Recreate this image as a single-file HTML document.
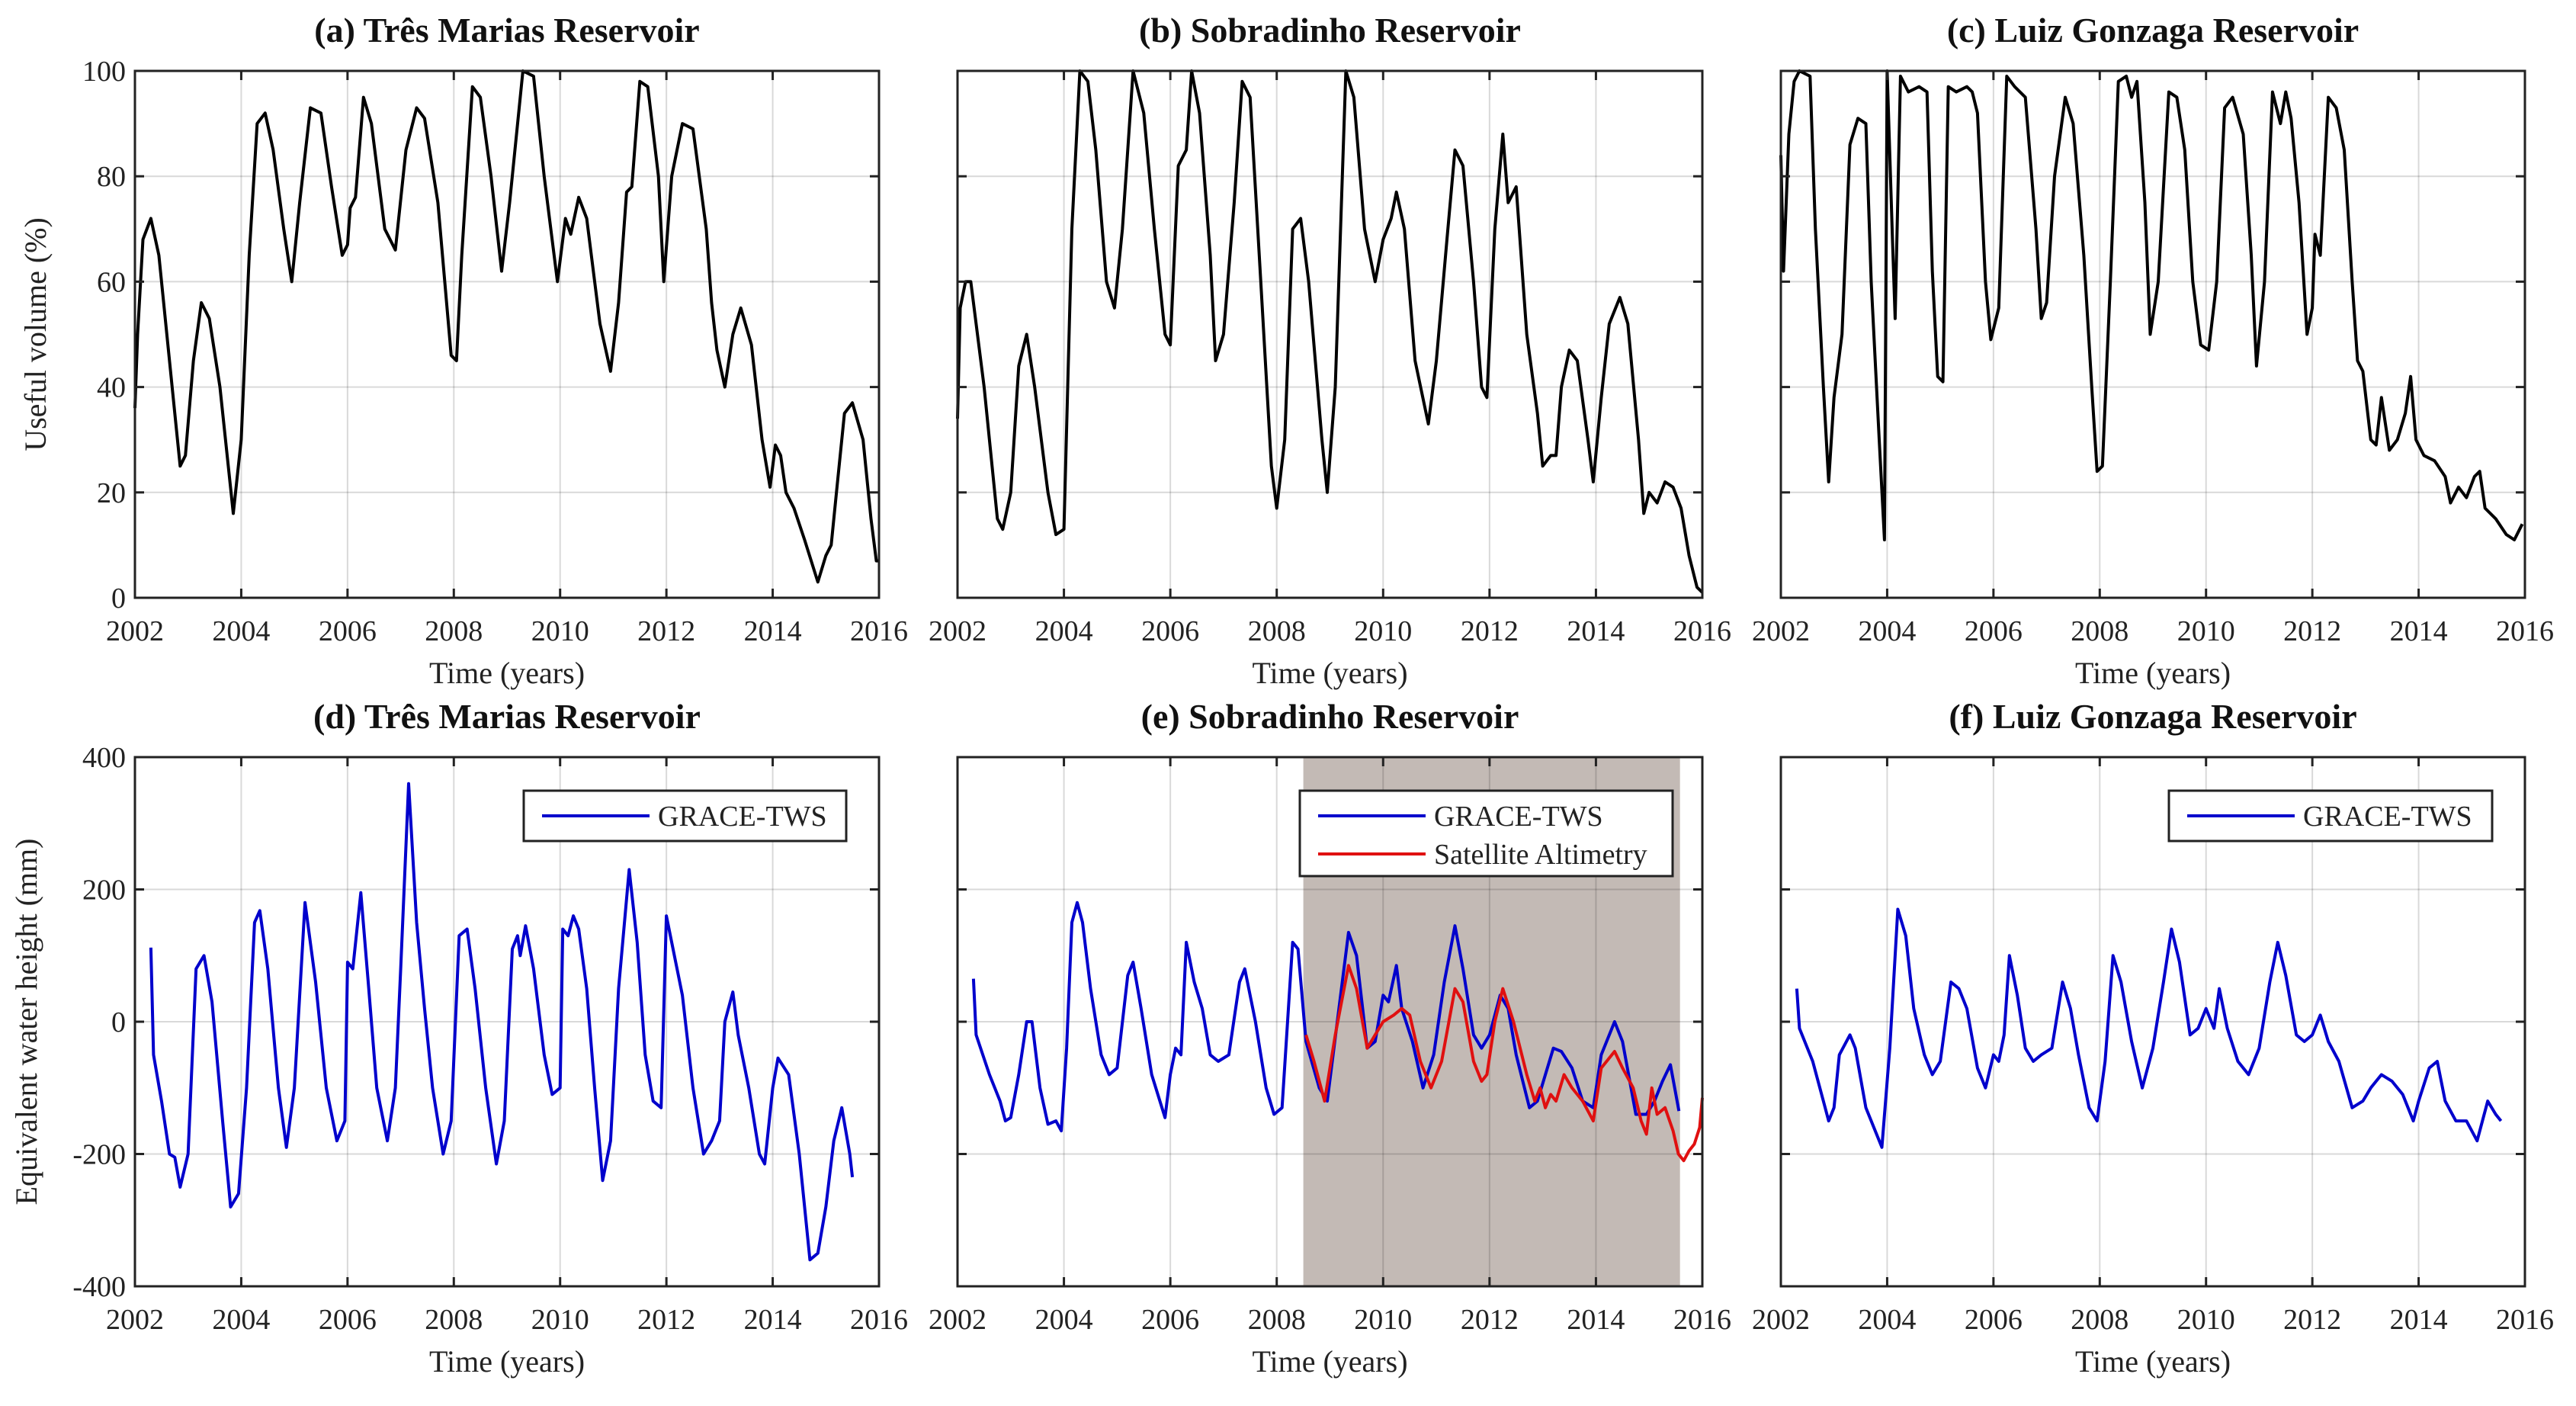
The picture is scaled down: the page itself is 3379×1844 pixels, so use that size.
<!DOCTYPE html>
<html><head><meta charset="utf-8">
<style>
html,body{margin:0;padding:0;background:#fff;}
svg{display:block;font-family:"Liberation Serif",serif;}
</style></head>
<body>
<svg id="fig" width="3379" height="1844" viewBox="0 0 3379 1844" xmlns="http://www.w3.org/2000/svg"></svg>
<script>
// ---- data ----
const xTicks=[2002,2004,2006,2008,2010,2012,2014,2016];
const volTicks=[0,20,40,60,80,100];
const ewhTicks=[-400,-200,0,200,400];
const tmVolT=[2002.0,2002.05,2002.15,2002.3,2002.45,2002.7,2002.85,2002.95,2003.1,2003.25,2003.4,2003.6,2003.85,2004.0,2004.15,2004.3,2004.45,2004.6,2004.8,2004.95,2005.1,2005.3,2005.5,2005.7,2005.9,2006.0,2006.05,2006.15,2006.3,2006.45,2006.7,2006.9,2007.1,2007.3,2007.45,2007.7,2007.95,2008.05,2008.15,2008.35,2008.5,2008.7,2008.9,2009.05,2009.3,2009.5,2009.7,2009.95,2010.1,2010.2,2010.35,2010.5,2010.75,2010.95,2011.1,2011.25,2011.35,2011.5,2011.65,2011.85,2011.95,2012.1,2012.3,2012.5,2012.75,2012.85,2012.95,2013.1,2013.25,2013.4,2013.6,2013.8,2013.95,2014.05,2014.15,2014.25,2014.4,2014.6,2014.85,2015.0,2015.1,2015.2,2015.35,2015.5,2015.7,2015.85,2015.95,2016.0];
const tmVol=[36,50,68,72,65,40,25,27,45,56,53,40,16,30,65,90,92,85,70,60,75,93,92,78,65,67,74,76,95,90,70,66,85,93,91,75,46,45,65,97,95,80,62,75,100,99,80,60,72,69,76,72,52,43,56,77,78,98,97,80,60,80,90,89,70,56,47,40,50,55,48,30,21,29,27,20,17,11,3,8,10,20,35,37,30,15,7,7];
const sbVolT=[2002.0,2002.05,2002.15,2002.25,2002.5,2002.75,2002.85,2003.0,2003.15,2003.3,2003.45,2003.7,2003.85,2004.0,2004.15,2004.3,2004.45,2004.6,2004.8,2004.95,2005.1,2005.3,2005.5,2005.7,2005.9,2006.0,2006.15,2006.3,2006.4,2006.55,2006.75,2006.85,2007.0,2007.2,2007.35,2007.5,2007.7,2007.9,2008.0,2008.15,2008.3,2008.45,2008.6,2008.85,2008.95,2009.1,2009.3,2009.45,2009.65,2009.85,2010.0,2010.15,2010.25,2010.4,2010.6,2010.85,2011.0,2011.2,2011.35,2011.5,2011.7,2011.85,2011.95,2012.1,2012.25,2012.35,2012.5,2012.7,2012.9,2013.0,2013.15,2013.25,2013.35,2013.5,2013.65,2013.85,2013.95,2014.1,2014.25,2014.45,2014.6,2014.8,2014.9,2015.0,2015.15,2015.3,2015.45,2015.6,2015.75,2015.9,2016.0];
const sbVol=[34,55,60,60,40,15,13,20,44,50,40,20,12,13,70,100,98,85,60,55,70,100,92,70,50,48,82,85,100,92,65,45,50,75,98,95,60,25,17,30,70,72,60,30,20,40,100,95,70,60,68,72,77,70,45,33,45,68,85,82,60,40,38,70,88,75,78,50,35,25,27,27,40,47,45,30,22,38,52,57,52,30,16,20,18,22,21,17,8,2,1];
const lgVolT=[2002.0,2002.05,2002.15,2002.25,2002.35,2002.55,2002.65,2002.8,2002.9,2003.0,2003.15,2003.3,2003.45,2003.6,2003.7,2003.85,2003.95,2004.0,2004.1,2004.15,2004.25,2004.4,2004.6,2004.75,2004.85,2004.95,2005.05,2005.15,2005.3,2005.5,2005.6,2005.7,2005.85,2005.95,2006.1,2006.25,2006.4,2006.6,2006.8,2006.9,2007.0,2007.15,2007.35,2007.5,2007.7,2007.85,2007.95,2008.05,2008.2,2008.35,2008.5,2008.6,2008.7,2008.85,2008.95,2009.1,2009.3,2009.45,2009.6,2009.75,2009.9,2010.05,2010.2,2010.35,2010.5,2010.7,2010.85,2010.95,2011.1,2011.25,2011.4,2011.5,2011.6,2011.75,2011.9,2012.0,2012.05,2012.15,2012.3,2012.45,2012.6,2012.75,2012.85,2012.95,2013.1,2013.2,2013.3,2013.45,2013.6,2013.75,2013.85,2013.95,2014.1,2014.3,2014.5,2014.6,2014.75,2014.9,2015.05,2015.15,2015.25,2015.45,2015.65,2015.8,2015.95];
const lgVol=[84,62,88,98,100,99,70,40,22,38,50,86,91,90,60,30,11,100,68,53,99,96,97,96,62,42,41,97,96,97,96,92,60,49,55,99,97,95,70,53,56,80,95,90,65,40,24,25,60,98,99,95,98,75,50,60,96,95,85,60,48,47,60,93,95,88,65,44,60,96,90,96,91,75,50,55,69,65,95,93,85,60,45,43,30,29,38,28,30,35,42,30,27,26,23,18,21,19,23,24,17,15,12,11,14];
const tmEwhT=[2002.3,2002.35,2002.5,2002.65,2002.75,2002.85,2003.0,2003.15,2003.3,2003.45,2003.65,2003.8,2003.95,2004.1,2004.25,2004.35,2004.5,2004.7,2004.85,2005.0,2005.2,2005.4,2005.6,2005.8,2005.95,2006.0,2006.1,2006.25,2006.4,2006.55,2006.75,2006.9,2007.0,2007.15,2007.3,2007.45,2007.6,2007.8,2007.95,2008.1,2008.25,2008.4,2008.6,2008.8,2008.95,2009.1,2009.2,2009.25,2009.35,2009.5,2009.7,2009.85,2010.0,2010.05,2010.15,2010.25,2010.35,2010.5,2010.65,2010.8,2010.95,2011.1,2011.3,2011.45,2011.6,2011.75,2011.9,2012.0,2012.15,2012.3,2012.5,2012.7,2012.85,2013.0,2013.1,2013.25,2013.35,2013.55,2013.75,2013.85,2014.0,2014.1,2014.3,2014.5,2014.7,2014.85,2015.0,2015.15,2015.3,2015.45,2015.5];
const tmEwh=[112,-50,-120,-200,-205,-250,-200,80,100,30,-150,-280,-260,-100,150,168,80,-100,-190,-100,180,60,-100,-180,-150,90,80,195,50,-100,-180,-100,80,360,150,20,-100,-200,-150,130,140,50,-100,-215,-150,110,130,100,145,80,-50,-110,-100,140,130,160,140,50,-100,-240,-180,50,230,120,-50,-120,-130,160,100,40,-100,-200,-180,-150,0,45,-20,-100,-200,-215,-100,-55,-80,-200,-360,-350,-280,-180,-130,-200,-235];
const sbEwhT=[2002.3,2002.35,2002.6,2002.8,2002.9,2003.0,2003.15,2003.3,2003.4,2003.55,2003.7,2003.85,2003.95,2004.05,2004.15,2004.25,2004.35,2004.5,2004.7,2004.85,2005.0,2005.2,2005.3,2005.45,2005.65,2005.9,2006.0,2006.1,2006.2,2006.3,2006.45,2006.6,2006.75,2006.9,2007.1,2007.3,2007.4,2007.6,2007.8,2007.95,2008.1,2008.3,2008.4,2008.55,2008.8,2008.95,2009.2,2009.35,2009.5,2009.7,2009.85,2010.0,2010.1,2010.25,2010.35,2010.55,2010.75,2010.95,2011.15,2011.35,2011.5,2011.7,2011.85,2012.0,2012.2,2012.35,2012.5,2012.75,2012.9,2013.05,2013.2,2013.35,2013.55,2013.75,2013.95,2014.1,2014.35,2014.5,2014.75,2014.95,2015.1,2015.25,2015.4,2015.56];
const sbEwh=[65,-20,-80,-120,-150,-145,-80,0,0,-100,-155,-150,-165,-40,150,180,150,50,-50,-80,-70,70,90,20,-80,-145,-80,-40,-50,120,60,20,-50,-60,-50,60,80,0,-100,-140,-130,120,110,-30,-100,-120,40,135,100,-40,-30,40,30,85,20,-30,-100,-50,60,145,80,-20,-40,-20,40,20,-50,-130,-120,-80,-40,-45,-70,-120,-130,-50,0,-30,-140,-140,-120,-90,-65,-135];
const sbAltT=[2008.55,2008.7,2008.9,2009.1,2009.35,2009.5,2009.7,2009.85,2010.0,2010.2,2010.35,2010.5,2010.7,2010.9,2011.1,2011.35,2011.5,2011.7,2011.85,2011.95,2012.1,2012.25,2012.45,2012.7,2012.85,2012.95,2013.05,2013.15,2013.25,2013.4,2013.55,2013.75,2013.95,2014.1,2014.35,2014.5,2014.7,2014.85,2014.95,2015.05,2015.15,2015.3,2015.45,2015.55,2015.65,2015.75,2015.85,2015.95,2016.0];
const sbAlt=[-20,-60,-120,-20,85,50,-40,-20,0,10,20,10,-60,-100,-60,50,30,-60,-90,-80,0,50,0,-80,-120,-100,-130,-110,-120,-80,-100,-120,-150,-70,-45,-70,-100,-150,-170,-100,-140,-130,-165,-200,-210,-195,-185,-160,-115];
const lgEwhT=[2002.3,2002.35,2002.6,2002.8,2002.9,2003.0,2003.1,2003.3,2003.4,2003.6,2003.75,2003.9,2004.05,2004.2,2004.35,2004.5,2004.7,2004.85,2005.0,2005.2,2005.35,2005.5,2005.7,2005.85,2006.0,2006.1,2006.2,2006.3,2006.45,2006.6,2006.75,2006.9,2007.1,2007.3,2007.45,2007.6,2007.8,2007.95,2008.1,2008.25,2008.4,2008.6,2008.8,2009.0,2009.2,2009.35,2009.5,2009.7,2009.85,2010.0,2010.15,2010.25,2010.4,2010.6,2010.8,2011.0,2011.2,2011.35,2011.5,2011.7,2011.85,2012.0,2012.15,2012.3,2012.5,2012.75,2012.95,2013.1,2013.3,2013.5,2013.7,2013.9,2014.0,2014.2,2014.35,2014.5,2014.7,2014.9,2015.1,2015.3,2015.45,2015.55];
const lgEwh=[50,-10,-60,-120,-150,-130,-50,-20,-40,-130,-160,-190,-40,170,130,20,-50,-80,-60,60,50,20,-70,-100,-50,-60,-20,100,40,-40,-60,-50,-40,60,20,-50,-130,-150,-60,100,60,-30,-100,-40,60,140,90,-20,-10,20,-10,50,-10,-60,-80,-40,60,120,70,-20,-30,-20,10,-30,-60,-130,-120,-100,-80,-90,-110,-150,-120,-70,-60,-120,-150,-150,-180,-120,-140,-150];

// ---- layout ----
const NS="http://www.w3.org/2000/svg";
const svg=document.getElementById('fig');
function mk(tag,attrs,parent,text){const e=document.createElementNS(NS,tag);for(const k in attrs)e.setAttribute(k,attrs[k]);if(text!==undefined)e.textContent=text;(parent||svg).appendChild(e);return e;}
const cols=[[177,1153],[1256,2233],[2336,3312]];
const rows=[[93,784],[993,1687]];
function panel(ci,ri,title,yTicks,ymin,ymax,series,opts){
  const [x0,x1]=cols[ci],[y0,y1]=rows[ri];
  const g=mk('g',{},svg);
  
  
  const sx=t=>x0+(t-2002)/(2016-2002)*(x1-x0);
  const sy=v=>y1-(v-ymin)/(ymax-ymin)*(y1-y0);
  if(opts.shade){const r=mk('rect',{x:sx(opts.shade[0]),y:y0,width:sx(opts.shade[1])-sx(opts.shade[0]),height:y1-y0,fill:'#c3bab5'},g);
    }
  xTicks.forEach(t=>{const l=mk('line',{x1:sx(t),x2:sx(t),y1:y0,y2:y1,stroke:'rgba(0,0,0,0.15)','stroke-width':2},g);
    });
  yTicks.forEach(v=>{const l=mk('line',{x1:x0,x2:x1,y1:sy(v),y2:sy(v),stroke:'rgba(0,0,0,0.15)','stroke-width':2},g);
    });
  series.forEach(s=>{
    const pts=s.t.map((t,i)=>sx(t).toFixed(1)+','+sy(s.v[i]).toFixed(1)).join(' ');
    const p=mk('polyline',{points:pts,fill:'none',stroke:s.c,'stroke-width':s.w,'stroke-linejoin':'round'},g);
    
  });
  const bx=mk('rect',{x:x0,y:y0,width:x1-x0,height:y1-y0,fill:'none',stroke:'#222','stroke-width':3},g);
  
  xTicks.forEach(t=>{mk('line',{x1:sx(t),x2:sx(t),y1:y1,y2:y1-12,stroke:'#222','stroke-width':3},g);mk('line',{x1:sx(t),x2:sx(t),y1:y0,y2:y0+12,stroke:'#222','stroke-width':3},g);
    const tx=mk('text',{x:sx(t),y:y1+56,'font-size':38,'text-anchor':'middle',fill:'#222'},g,String(t));
    });
  yTicks.forEach(v=>{mk('line',{x1:x0,x2:x0+12,y1:sy(v),y2:sy(v),stroke:'#222','stroke-width':3},g);mk('line',{x1:x1,x2:x1-12,y1:sy(v),y2:sy(v),stroke:'#222','stroke-width':3},g);
    if(ci===0){const tx=mk('text',{x:x0-12,y:sy(v)+13,'font-size':38,'text-anchor':'end',fill:'#222'},g,String(v));
      }});
  const xt=mk('text',{x:(x0+x1)/2,y:y1+112,'font-size':40,'text-anchor':'middle',fill:'#222'},g,'Time (years)');
  
  const tt=mk('text',{x:(x0+x1)/2,y:y0-38,'font-size':46,'font-weight':'bold','text-anchor':'middle',fill:'#111'},g,title);
  
  if(opts.ylabel){const yl=mk('text',{x:0,y:0,'font-size':40,'text-anchor':'middle',fill:'#222',transform:`translate(${opts.ylx},${(y0+y1)/2}) rotate(-90)`},g,opts.ylabel);
    }
  if(opts.legend){const L=opts.legend;
    const lg=mk('g',{},g);
    mk('rect',{x:L.x,y:L.y,width:L.w,height:L.h,fill:'#fff',stroke:'#222','stroke-width':3},lg);
    L.items.forEach((it,i)=>{const yy=L.y+33+i*50;
      mk('line',{x1:L.x+24,x2:L.x+165,y1:yy,y2:yy,stroke:it.c,'stroke-width':4},lg);
      const te=mk('text',{x:L.x+176,y:yy+13,'font-size':38,fill:'#222'},lg,it.label);
      });}
}
const K='#000',B='#0000cc',R='#e01010';
panel(0,0,'(a) Três Marias Reservoir',volTicks,0,100,[{t:tmVolT,v:tmVol,c:K,w:4,name:'volume-line'}],{ylabel:'Useful volume (%)',ylx:60});
panel(1,0,'(b) Sobradinho Reservoir',volTicks,0,100,[{t:sbVolT,v:sbVol,c:K,w:4,name:'volume-line'}],{});
panel(2,0,'(c) Luiz Gonzaga Reservoir',volTicks,0,100,[{t:lgVolT,v:lgVol,c:K,w:4,name:'volume-line'}],{});
panel(0,1,'(d) Três Marias Reservoir',ewhTicks,-400,400,[{t:tmEwhT,v:tmEwh,c:B,w:4,name:'grace-tws-line'}],{ylabel:'Equivalent water height (mm)',ylx:48,legend:{x:687,y:1037,w:423,h:66,items:[{c:B,label:'GRACE-TWS'}]}});
panel(1,1,'(e) Sobradinho Reservoir',ewhTicks,-400,400,[{t:sbEwhT,v:sbEwh,c:B,w:4,name:'grace-tws-line'},{t:sbAltT,v:sbAlt,c:R,w:4,name:'satellite-altimetry-line'}],{shade:[2008.5,2015.58],legend:{x:1705,y:1037,w:489,h:112,items:[{c:B,label:'GRACE-TWS'},{c:R,label:'Satellite Altimetry'}]}});
panel(2,1,'(f) Luiz Gonzaga Reservoir',ewhTicks,-400,400,[{t:lgEwhT,v:lgEwh,c:B,w:4,name:'grace-tws-line'}],{legend:{x:2845,y:1037,w:424,h:66,items:[{c:B,label:'GRACE-TWS'}]}});
</script>
</body></html>
